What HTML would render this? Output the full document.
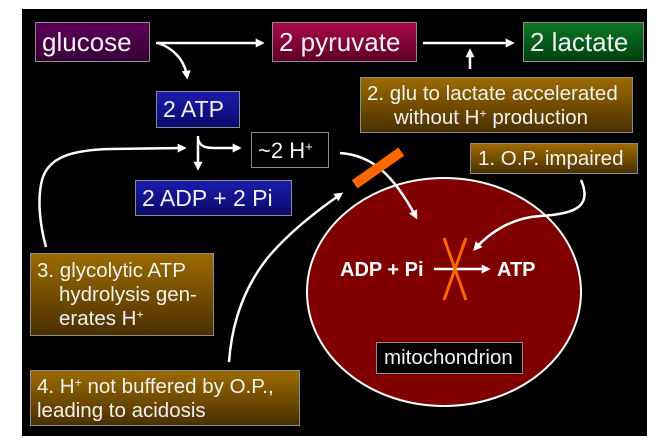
<!DOCTYPE html>
<html><head><meta charset="utf-8">
<style>
html,body{margin:0;padding:0;background:#fff;width:662px;height:448px;overflow:hidden;}
body{position:relative;font-family:"Liberation Sans",Arial,sans-serif;}
#bg{position:absolute;left:22px;top:9px;width:625px;height:427px;background:#000;}
svg{position:absolute;left:0;top:0;}
.b{position:absolute;box-sizing:border-box;border:1px solid #8c8c8c;color:#f2f2f2;white-space:nowrap;}
.big{font-size:26px;line-height:38px;padding-left:6px;}
.mid{font-size:23px;line-height:35px;padding-left:6px;}
.txt{font-size:20.5px;line-height:24px;}
sup{font-size:0.6em;line-height:0;vertical-align:0.55em;}
.brown{background:linear-gradient(#9c6a00,#4a3000);}
.blue{background:linear-gradient(#1c1cae,#0a0a6a);}
</style></head><body>
<div id="bg"></div>
<svg width="662" height="448" viewBox="0 0 662 448">
<defs>
<marker id="ah" viewBox="0 0 10 10" refX="7" refY="5" markerWidth="10" markerHeight="9" markerUnits="userSpaceOnUse" orient="auto">
<path d="M0,0 L10,5 L0,10 z" fill="#fff"/>
</marker>
</defs>
<ellipse cx="444" cy="292" rx="137" ry="114" fill="#800000" stroke="#fff" stroke-width="2"/>
<g fill="none" stroke="#fff" stroke-width="2.5" marker-end="url(#ah)">
<path d="M156,43 L262,43"/>
<path d="M158,43 C173,48 185,60 187,77"/>
<path d="M423,43 L512,43"/>
<path d="M470,69 L470,51"/>
<path d="M198,136 L198,168"/>
<path d="M198,139 C200,147 206,148 215,148 L239,148"/>
<path d="M46,247 C40,225 37,200 42,180 C48,158 70,150 110,149 L184,148"/>
<path d="M340,153 C370,155 392,172 416,217"/>
<path d="M229,362 C232,320 245,285 270,255 C290,232 315,212 341,194"/>
<path d="M581,180 C592,205 578,214 540,216 C510,218 488,234 475,249"/>
<path d="M434,269 L488,269"/>
</g>
<rect x="-28.5" y="-5" width="57" height="10" transform="translate(378,168) rotate(-35)" fill="#ff6600"/>
<line x1="444" y1="238" x2="466" y2="300" stroke="#ff6600" stroke-width="3"/>
<line x1="466" y1="238" x2="444" y2="300" stroke="#ff6600" stroke-width="3"/>
<text x="340" y="276" font-family="Liberation Sans, Arial, sans-serif" font-weight="bold" font-size="20" fill="#fff">ADP + Pi</text>
<text x="497" y="276" font-family="Liberation Sans, Arial, sans-serif" font-weight="bold" font-size="20" fill="#fff">ATP</text>
</svg>

<div class="b big" style="left:35px;top:22px;width:115px;height:40px;background:linear-gradient(#5c005c,#380036);">glucose</div>
<div class="b big" style="left:272px;top:22px;width:145px;height:40px;background:linear-gradient(#a8084c,#5e0024);">2 pyruvate</div>
<div class="b big" style="left:523px;top:22px;width:121px;height:40px;background:linear-gradient(#0a7824,#00400e);">2 lactate</div>

<div class="b mid blue" style="left:156px;top:91px;width:84px;height:37px;">2 ATP</div>
<div class="b mid" style="left:251px;top:132px;width:78px;height:36px;background:#000;font-size:22px;">~2 H<sup>+</sup></div>
<div class="b mid blue" style="left:135px;top:180px;width:157px;height:36px;">2 ADP + 2 Pi</div>

<div class="b txt brown" style="left:360px;top:77px;width:273px;height:56px;padding-top:4px;">
<div style="padding-left:6px;">2. glu to lactate accelerated</div>
<div style="padding-left:33px;">without H<sup>+</sup> production</div>
</div>
<div class="b txt brown" style="left:470px;top:143px;width:168px;height:31px;padding-top:3px;padding-left:7px;">1. O.P. impaired</div>
<div class="b txt brown" style="left:30px;top:253px;width:184px;height:83px;padding-top:5px;">
<div style="padding-left:6px;">3. glycolytic ATP</div>
<div style="padding-left:28px;">hydrolysis gen-</div>
<div style="padding-left:28px;">erates H<sup>+</sup></div>
</div>
<div class="b txt brown" style="left:30px;top:370px;width:270px;height:56px;padding-top:4px;padding-left:6px;">
<div>4. H<sup>+</sup> not buffered by O.P.,</div>
<div>leading to acidosis</div>
</div>
<div class="b txt" style="left:376px;top:342px;width:147px;height:32px;background:#000;padding-left:7px;line-height:30px;">mitochondrion</div>
</body></html>
